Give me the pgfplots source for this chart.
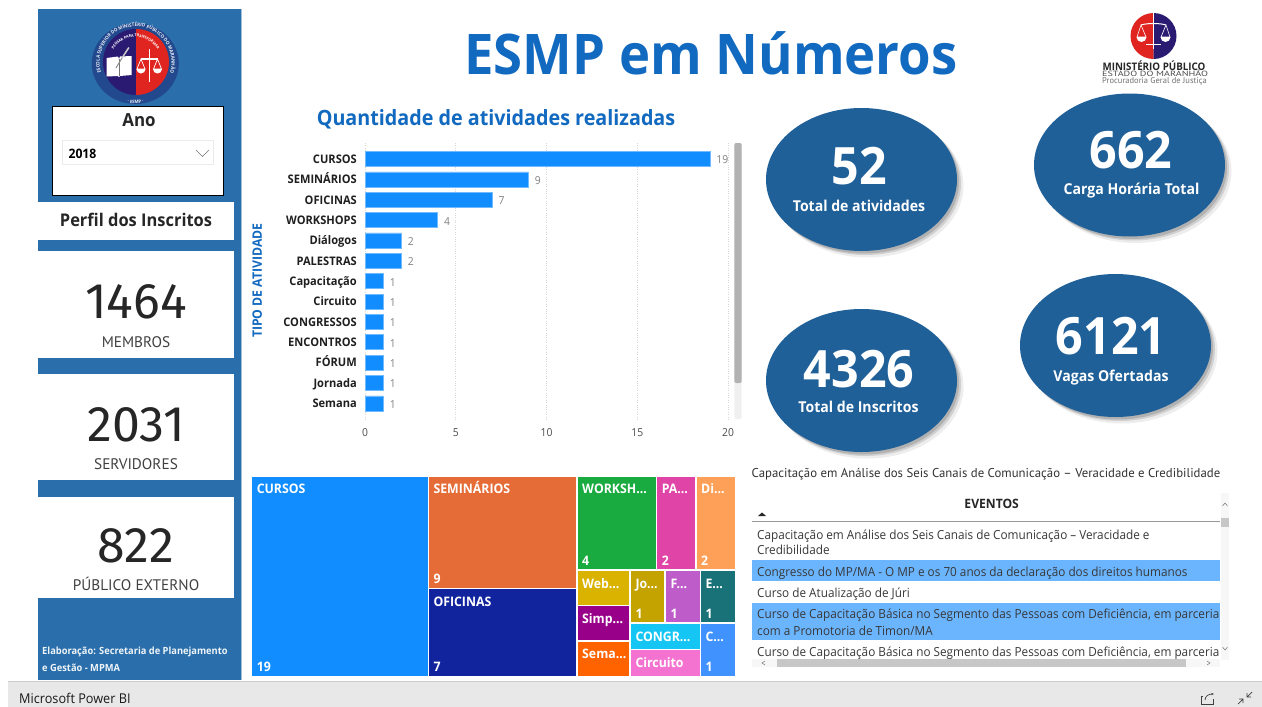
\documentclass[border=0pt]{standalone}
\usepackage{graphicx}
\usepackage{fontspec}
\usepackage{pgfplots}
\pgfplotsset{compat=1.18}
\usetikzlibrary{decorations.text,arrows.meta}
\setmainfont{Open Sans}
\newfontfamily\seg[FakeStretch=0.94]{Open Sans}
\newfontfamily\din{PT Sans}
\newfontfamily\bigf{Fira Sans}
\newcommand{\fs}[1]{\fontsize{#1}{#1}\selectfont}
\definecolor{panel}{HTML}{2A6FAB}
\definecolor{oval}{HTML}{1F6099}
\definecolor{ttl}{HTML}{1169C0}
\definecolor{hl}{HTML}{6BB5FF}
\definecolor{barb}{HTML}{118DFF}
\definecolor{navy}{HTML}{2A1A72}
\definecolor{lred}{HTML}{E0241F}
\definecolor{ring}{HTML}{22488E}
\definecolor{t1}{HTML}{E66C37}
\definecolor{t2}{HTML}{12239E}
\definecolor{t3}{HTML}{1AAB40}
\definecolor{t4}{HTML}{E044A7}
\definecolor{t5}{HTML}{FFA058}
\definecolor{t6}{HTML}{D9B300}
\definecolor{t7}{HTML}{99008A}
\definecolor{t8}{HTML}{FF6300}
\definecolor{t9}{HTML}{C4A200}
\definecolor{t10}{HTML}{BE5DC9}
\definecolor{t11}{HTML}{197278}
\definecolor{t12}{HTML}{15C6F4}
\definecolor{t13}{HTML}{F472D0}
\definecolor{t14}{HTML}{4092FF}
\newcommand{\tm}[7]{%
  \addplot[fill=#5,draw=none] coordinates {(#1,#2) (#3,#2) (#3,#4) (#1,#4)} --cycle;
  \node[anchor=base west,text=white,inner sep=0,font=\seg\bfseries\fs{13.1}] at (axis cs:#1+4.3,#2+17) {#6};
  \node[anchor=base west,text=white,inner sep=0,font=\seg\bfseries\fs{13.1}] at (axis cs:#1+4.3,#4-3.8) {#7};
}
\newcommand{\ov}[8]{% cx cy value vx vy label lx ly
  \fill[black,opacity=.07] (#1+6,#2+6) ellipse [x radius=96, y radius=72];
  \fill[black,opacity=.12] (#1+4,#2+4) ellipse [x radius=95.5, y radius=71.5];
  \fill[black,opacity=.15] (#1+2.5,#2+2.5) ellipse [x radius=95, y radius=71.5];
  \fill[oval] (#1,#2) ellipse [x radius=95.5, y radius=71.5];
  \node[font=\seg\bfseries\fs{51.5},text=white] at (#4,#5) {#3};
  \node[anchor=base,inner sep=0,font=\seg\bfseries\fs{15},text=white] at (#7,#8+5.5) {#6};
}
\begin{document}
\begin{tikzpicture}[x=1pt,y=-1pt]
\path[use as bounding box,fill=white] (0,0) rectangle (1262,707);
% left panel
\fill[panel] (38,9) rectangle (241,680);
\draw[panel!45!white,line width=.8pt] (241,9) -- (241,680);
\fill[white] (38,202.3) rectangle (233.5,240);
\fill[white] (38,251) rectangle (233.5,358);
\fill[white] (38,374) rectangle (233.5,480);
\fill[white] (38,497) rectangle (233.5,598);
\fill[white] (52.3,106.7) rectangle (223.3,195);
\draw[black,line width=.9pt] (52.3,106.7) rectangle (223.3,195);
\draw[black!8,fill=white,line width=.8pt] (62,140) rectangle (213.7,164.3);
\node[font=\seg\bfseries\fs{18},text=black!85] at (139,120) {Ano};
\node[anchor=west,font=\seg\bfseries\fs{13},text=black] at (65,154) {2018};
\draw[black!55,line width=.6pt] (196,150) -- (202.5,156.5) -- (209,150);
\node[font=\seg\bfseries\fs{17.5},text=black!85] at (136,220) {Perfil dos Inscritos};
\node[font=\bigf\fs{50},text=black!85] at (136,302) {1464};
\node[font=\din\fs{15.3},text=black!75] at (136,342) {MEMBROS};
\node[font=\bigf\fs{50},text=black!85] at (136,425) {2031};
\node[font=\din\fs{15.3},text=black!75] at (136,464) {SERVIDORES};
\node[font=\bigf\fs{50},text=black!85] at (136,546) {822};
\node[font=\din\fs{15.3},text=black!75] at (136,583.5) {PÚBLICO EXTERNO};
\node[anchor=west,font=\seg\bfseries\fs{9.9},text=white!92!panel,inner sep=0] at (42,651.5) {Elaboração: Secretaria de Planejamento};
\node[anchor=west,font=\seg\bfseries\fs{9.9},text=white!92!panel,inner sep=0] at (42,668) {e Gestão - MPMA};
% ESMP logo
\fill[ring] (135.3,63.5) ellipse [x radius=43.5, y radius=40.5];
\fill[navy] (136,29) arc [start angle=270,end angle=90,radius=33] -- cycle;
\fill[lred] (136,29) arc [start angle=270,end angle=450,radius=33] -- cycle;
\begin{scope}[shift={(135.6,62.5)},y=1pt]
\path[decorate,decoration={text along path,text align=center,text={|\seg\bfseries\fs{4.8}\color{white!90!ring}|ESCOLA SUPERIOR DO MINISTÉRIO PÚBLICO DO MARANHÃO}}]
  (-125:36) arc [start angle=-125,end angle=-415,radius=36];
\path[decorate,decoration={text along path,text align=center,text={|\seg\bfseries\fs{4.6}\color{white!90!ring}|· ESMP ·}}]
  (-110:41) arc [start angle=-110,end angle=-70,radius=41];
\path[decorate,decoration={text along path,text align=center,text={|\seg\bfseries\fs{3.8}\color{white}|PENSAR PARA TRANSFORMAR}}]
  (165:25.5) arc [start angle=165,end angle=15,radius=25.5];
\end{scope}
% book
\fill[white] (106.7,58) -- (118,56.5) -- (119,59) -- (120,56.5) -- (131.7,56) -- (131.7,75) -- (120,76) -- (119,77) -- (118,76) -- (106.7,76.5) -- cycle;
\draw[black!55,line width=.5pt] (119,59) -- (119,76);
\draw[black!45,line width=1pt] (116,68) -- (128,48);
\draw[white!80!black,line width=1.3pt] (122,58) -- (129,47.5);
% scales
\draw[white,line width=1.6pt] (149.3,49) -- (149.3,81.7);
\draw[white,line width=1.4pt] (141,59) -- (157.5,59);
\draw[white,line width=.7pt] (141,59) -- (137,69) -- (145,69) -- cycle;
\draw[white,line width=.7pt] (157.5,59) -- (153.5,69) -- (161.5,69) -- cycle;
\fill[white] (136.5,69) arc [start angle=180,end angle=0,radius=4.5] -- cycle;
\fill[white] (153,69) arc [start angle=180,end angle=0,radius=4.5] -- cycle;
% title
\node[font=\seg\bfseries\fs{56},text=ttl] at (711,53) {ESMP em Números};
\node[font=\seg\bfseries\fs{21},text=ttl] at (496,119) {Quantidade de atividades realizadas};
% MP logo
\fill[lred] (1153.5,13) arc [start angle=270,end angle=90,radius=23] -- cycle;
\fill[navy] (1153.5,13) arc [start angle=270,end angle=450,radius=23] -- cycle;
\draw[white,line width=.9pt] (1153.5,13) -- (1153.5,49);
\draw[white,line width=1pt] (1141,25) .. controls (1147,23) and (1160,23) .. (1166,25);
\draw[white,line width=.6pt] (1141,25) -- (1137,37) -- (1146,37) -- cycle;
\draw[white,line width=.6pt] (1166,25) -- (1161,37) -- (1170,37) -- cycle;
\fill[white] (1136.5,37) arc [start angle=180,end angle=0,radius=5] -- cycle;
\fill[white] (1160.5,37) arc [start angle=180,end angle=0,radius=5] -- cycle;
\draw[white,line width=.9pt] (1146,44) -- (1161,44);
\node[font=\seg\bfseries\fs{10.4},text=black!85,inner sep=0] at (1154,65.5) {MINISTÉRIO PÚBLICO};
\node[font=\din\fs{7.6},text=black!70,inner sep=0] at (1155,73.7) {\scalebox{1.33}[1]{ESTADO DO MARANHÃO}};
\node[font=\din\fs{8.5},text=black!55,inner sep=0] at (1154.5,81) {Procuradoria Geral de Justiça};
% chart scrollbar
\fill[black!6,rounded corners=2pt] (734.3,143) rectangle (741.7,419);
\fill[black!30,rounded corners=2pt] (734.3,143) rectangle (741.7,383);
% ovals
\ov{861.5}{179.5}{52}{859}{166}{Total de atividades}{859}{206}
\ov{1129.5}{165}{662}{1131}{150}{Carga Horária Total}{1131.5}{189}
\ov{861.5}{380.5}{4326}{859}{369}{Total de Inscritos}{858.5}{407}
\ov{1115.5}{345.5}{6121}{1111}{336}{Vagas Ofertadas}{1111}{376}
% table
\node[anchor=base west,font=\din\fs{12.77},text=black!80,inner sep=0] at (751.5,477) {Capacitação em Análise dos Seis Canais de Comunicação – Veracidade e Credibilidade};
\fill[hl] (752,560) rectangle (1220,581);
\fill[hl] (752,603) rectangle (1220,640);
\fill[black!3] (1221,493) rectangle (1229,660);
\fill[black!22] (1221,518) rectangle (1229,527);
\draw[black!55,line width=.5pt] (1222.5,506) -- (1225,503) -- (1227.5,506);
\draw[black!55,line width=.5pt] (1222.5,647) -- (1225,650) -- (1227.5,647);
\node[font=\seg\bfseries\fs{12.9},text=black!85] at (991.7,504) {EVENTOS};
\fill[black!85] (758,516) -- (766,516) -- (762,512.5) -- cycle;
\draw[black!40,line width=1pt] (752,521.7) -- (1220,521.7);
\begin{scope}
\clip (752,522) rectangle (1220,659);
\tikzset{rowt/.style={anchor=base west,font=\seg\fs{12.5},text=black!78,inner sep=0}}
\node[rowt] at (757,539) {Capacitação em Análise dos Seis Canais de Comunicação – Veracidade e};
\node[rowt] at (757,554.5) {Credibilidade};
\node[rowt] at (757,576.5) {Congresso do MP/MA - O MP e os 70 anos da declaração dos direitos humanos};
\node[rowt] at (757,597.5) {Curso de Atualização de Júri};
\node[rowt] at (757,618.5) {Curso de Capacitação Básica no Segmento das Pessoas com Deficiência, em parceria};
\node[rowt] at (757,635) {com a Promotoria de Timon/MA};
\node[rowt] at (757,656) {Curso de Capacitação Básica no Segmento das Pessoas com Deficiência, em parceria};
\end{scope}
\fill[black!3] (752,659) rectangle (1220,667);
\fill[black!22] (777,659) rectangle (1186,667);
\draw[black!55,line width=.5pt] (765,661) -- (762,663) -- (765,665);
\draw[black!55,line width=.5pt] (1207,661) -- (1210,663) -- (1207,665);
% bottom bar
\fill[black!9] (8,681) rectangle (1262,707);
\draw[black!20,line width=.8pt] (8,681) -- (1262,681);
\node[anchor=west,font=\seg\fs{13.5},text=black!90,inner sep=0] at (19,698.5) {Microsoft Power BI};
\draw[black!75,line width=.7pt] (1203,696) -- (1201,696) -- (1201,704) -- (1213,704) -- (1213,699);
\draw[black!75,line width=.7pt,-{Stealth[length=3pt]}] (1205,700) .. controls (1205,696) and (1209,694) .. (1214,694);
\draw[black!75,line width=.7pt] (1238,704) -- (1243,699) (1243,703) -- (1243,699) -- (1239,699);
\draw[black!75,line width=.7pt] (1252,692) -- (1247,697) (1247,693) -- (1247,697) -- (1251,697);
% bar chart
\begin{axis}[
  at={(365pt,-420pt)},anchor=south west,scale only axis,width=363pt,height=277pt,
  xbar,bar width=15pt,y dir=reverse,
  xmin=0,xmax=20,ymin=-0.787,ymax=12.82,
  xtick={0,5,10,15,20},ytick=data,
  yticklabels={CURSOS,SEMINÁRIOS,OFICINAS,WORKSHOPS,Diálogos,PALESTRAS,Capacitação,Circuito,CONGRESSOS,ENCONTROS,FÓRUM,Jornada,Semana},
  /pgf/number format/assume math mode=true,
  axis line style={draw=none},major tick length=0pt,
  xmajorgrids,major grid style={dotted,black!16,line width=.7pt},
  xticklabel style={font=\seg\fs{11},text=black!70,inner sep=0,yshift=-8pt},
  yticklabel style={font=\seg\bfseries\fs{11.8},text=black!88,inner sep=0,xshift=-8pt,yshift=-1.3pt,text height=8.5pt,text depth=2.5pt},
  nodes near coords,
  every node near coord/.append style={font=\seg\fs{11},text=black!50,anchor=west,xshift=3pt,yshift=-1pt},
  clip=false,
  ylabel={TIPO DE ATIVIDADE},
  ylabel style={font=\seg\bfseries\fs{13},text=ttl,at={(axis description cs:-0.283,0.5036)},anchor=south,inner sep=0},
]
\addplot[fill=barb,draw=barb!60!white,line width=.6pt] coordinates {
(19,0) (9,1) (7,2) (4,3) (2,4) (2,5) (1,6) (1,7) (1,8) (1,9) (1,10) (1,11) (1,12)};
\end{axis}
% treemap
\begin{axis}[
  at={(0pt,-707pt)},anchor=south west,scale only axis,width=1262pt,height=707pt,
  xmin=0,xmax=1262,ymin=0,ymax=707,y dir=reverse,axis lines=none,clip=false,
]
\tm{252.3}{476.7}{427.7}{675.7}{barb}{CURSOS}{19}
\tm{429}{476.7}{576.3}{587.7}{t1}{SEMINÁRIOS}{9}
\tm{429}{589.3}{576.3}{675.7}{t2}{OFICINAS}{7}
\tm{577.7}{476.7}{655.7}{569.3}{t3}{WORKSH...}{4}
\tm{657.3}{476.7}{695.3}{569.3}{t4}{PA...}{2}
\tm{696.7}{476.7}{735}{569.3}{t5}{Di...}{2}
\tm{577.7}{571}{629.3}{605}{t6}{Web...}{}
\tm{577.7}{606.3}{629.3}{640}{t7}{Simp...}{}
\tm{577.7}{641.7}{629.3}{675.7}{t8}{Sema...}{}
\tm{631}{571}{664.3}{622.3}{t9}{Jo...}{1}
\tm{666}{571}{699.7}{622.3}{t10}{F...}{1}
\tm{701}{571}{735}{622.3}{t11}{E...}{1}
\tm{631}{624}{699.7}{649}{t12}{CONGR...}{}
\tm{631}{650.3}{699.7}{675.7}{t13}{Circuito}{}
\tm{701}{624}{735}{675.7}{t14}{C...}{1}
\end{axis}
\end{tikzpicture}
\end{document}
